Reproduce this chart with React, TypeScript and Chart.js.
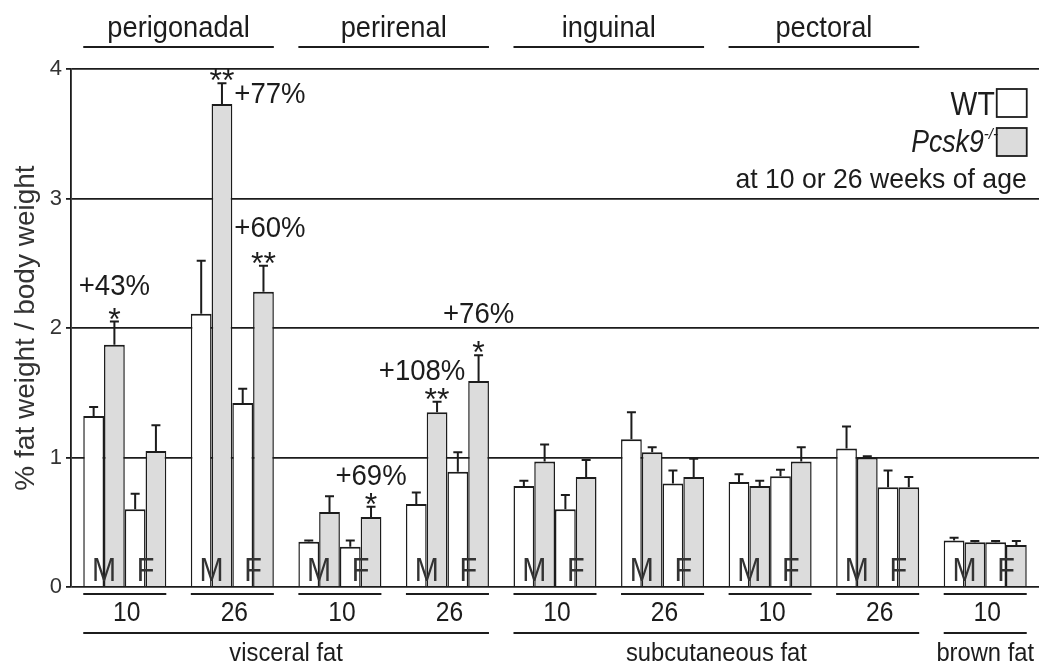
import React, { useEffect, useRef } from "react";
import { Chart, registerables } from "chart.js";

Chart.register(...registerables);

// ---- data ----
const groups = [
  "perigonadal 10", "perigonadal 26", "perirenal 10", "perirenal 26",
  "inguinal 10", "inguinal 26", "pectoral 10", "pectoral 26", "brown 10",
];
const ageLabels = ["10", "26", "10", "26", "10", "26", "10", "26", "10"];
const depotLabels = [
  { text: "perigonadal", from: 0, to: 1 },
  { text: "perirenal", from: 2, to: 3 },
  { text: "inguinal", from: 4, to: 5 },
  { text: "pectoral", from: 6, to: 7 },
];
const fatTypeLabels = [
  { text: "visceral fat", from: 0, to: 3 },
  { text: "subcutaneous fat", from: 4, to: 7 },
  { text: "brown fat", from: 8, to: 8 },
];

const wtMale = [1.32, 2.11, 0.35, 0.64, 0.78, 1.14, 0.81, 1.07, 0.36];
const wtMaleSem = [0.07, 0.41, 0.01, 0.09, 0.04, 0.21, 0.06, 0.17, 0.02];
const koMale = [1.87, 3.73, 0.58, 1.35, 0.97, 1.04, 0.78, 1.0, 0.345];
const koMaleSem = [0.18, 0.16, 0.12, 0.08, 0.13, 0.04, 0.04, 0.01, 0.01];
const wtFemale = [0.6, 1.42, 0.31, 0.89, 0.6, 0.8, 0.855, 0.77, 0.345];
const wtFemaleSem = [0.12, 0.11, 0.05, 0.15, 0.11, 0.1, 0.05, 0.13, 0.01];
const koFemale = [1.05, 2.28, 0.54, 1.59, 0.85, 0.85, 0.97, 0.77, 0.325];
const koFemaleSem = [0.2, 0.2, 0.08, 0.2, 0.13, 0.14, 0.11, 0.08, 0.03];

const yTickValues = [0, 1, 2, 3, 4];
const yTitle = "% fat weight / body weight";

// significance marks: group index, dataset index, stars
const starMarks = [
  { cat: 0, ds: 1, text: "*" },
  { cat: 1, ds: 1, text: "**" },
  { cat: 1, ds: 3, text: "**" },
  { cat: 2, ds: 3, text: "*" },
  { cat: 3, ds: 1, text: "**" },
  { cat: 3, ds: 3, text: "*" },
];
// percent increase labels: anchored to a bar and a y value (baseline)
const pctMarks = [
  { cat: 0, ds: 1, text: "+43%", at: 2.255, align: "center", dx: 0 },
  { cat: 1, ds: 1, text: "+77%", at: 3.737, align: "left", dx: 0 },
  { cat: 1, ds: 1, text: "+60%", at: 2.703, align: "left", dx: 0 },
  { cat: 2, ds: 3, text: "+69%", at: 0.788, align: "center", dx: 0 },
  { cat: 3, ds: 1, text: "+108%", at: 1.598, align: "center", dx: -15 },
  { cat: 3, ds: 3, text: "+76%", at: 2.039, align: "center", dx: 0 },
];

const means = [wtMale, koMale, wtFemale, koFemale];
const sems = [wtMaleSem, koMaleSem, wtFemaleSem, koFemaleSem];

const FONT = '"Liberation Sans", Arial, Helvetica, sans-serif';
const INK = "#1c1c1c";
const GRAY = "#dcdcdc";

function txt(
  ctx: CanvasRenderingContext2D,
  s: string,
  x: number,
  y: number,
  size: number,
  opts: { align?: CanvasTextAlign; sx?: number; italic?: boolean; color?: string } = {}
) {
  const { align = "center", sx = 1, italic = false, color = INK } = opts;
  ctx.save();
  ctx.translate(x, y);
  ctx.scale(sx, 1);
  ctx.font = `${italic ? "italic " : ""}${size}px ${FONT}`;
  ctx.fillStyle = color;
  ctx.textAlign = align;
  ctx.textBaseline = "alphabetic";
  ctx.fillText(s, 0, 0);
  ctx.restore();
}

function hline(ctx: CanvasRenderingContext2D, x1: number, x2: number, y: number, w = 2) {
  ctx.save();
  ctx.strokeStyle = INK;
  ctx.lineWidth = w;
  ctx.beginPath();
  ctx.moveTo(x1, y);
  ctx.lineTo(x2, y);
  ctx.stroke();
  ctx.restore();
}

const decorPlugin = {
  id: "decor",
  afterDatasetsDraw(chart: any) {
    const ctx: CanvasRenderingContext2D = chart.ctx;
    const y = chart.scales.y;
    // error bars
    ctx.save();
    ctx.strokeStyle = INK;
    ctx.lineWidth = 2;
    for (let d = 0; d < 4; d++) {
      const meta = chart.getDatasetMeta(d);
      meta.data.forEach((bar: any, i: number) => {
        const yb = y.getPixelForValue(means[d][i]);
        const yt = y.getPixelForValue(means[d][i] + sems[d][i]);
        ctx.beginPath();
        ctx.moveTo(bar.x, yb);
        ctx.lineTo(bar.x, yt);
        ctx.moveTo(bar.x - 4.5, yt);
        ctx.lineTo(bar.x + 4.5, yt);
        ctx.stroke();
      });
    }
    ctx.restore();

    const m0 = chart.getDatasetMeta(0).data;
    const m1 = chart.getDatasetMeta(1).data;
    const m3 = chart.getDatasetMeta(3).data;
    const yBase = y.getPixelForValue(0);

    // M / F labels inside bars
    for (let i = 0; i < groups.length; i++) {
      const mx = m1[i].x - m1[i].width / 2;
      const fx = m3[i].x - m3[i].width / 2;
      txt(ctx, "M", mx, yBase - 6, 34, { color: "#333", sx: 0.85 });
      txt(ctx, "F", fx, yBase - 6, 34, { color: "#333", sx: 0.85 });
    }

    const gl = (i: number) => m0[i].x - m0[i].width / 2;
    const gr = (i: number) => m3[i].x + m3[i].width / 2;

    // age labels & group underlines
    for (let i = 0; i < groups.length; i++) {
      hline(ctx, gl(i), gr(i), yBase + 7);
      txt(ctx, ageLabels[i], (gl(i) + gr(i)) / 2 + 2, yBase + 34, 28, { sx: 0.88 });
    }
    // fat type labels
    fatTypeLabels.forEach((f) => {
      hline(ctx, gl(f.from), gr(f.to), yBase + 46);
      txt(ctx, f.text, (gl(f.from) + gr(f.to)) / 2, yBase + 74, 25, { sx: 0.95 });
    });
    // depot labels at top
    depotLabels.forEach((f) => {
      hline(ctx, gl(f.from), gr(f.to), 47);
      txt(ctx, f.text, (gl(f.from) + gr(f.to)) / 2, 37, 29, { sx: 0.94 });
    });

    // stars
    starMarks.forEach((s) => {
      const d = s.ds, i = s.cat;
      const bar = chart.getDatasetMeta(d).data[i];
      const yt = y.getPixelForValue(means[d][i] + sems[d][i]);
      txt(ctx, s.text, bar.x, yt - 10 + 0.57 * 32, 32);
    });
    // percentages
    pctMarks.forEach((p) => {
      const bar = chart.getDatasetMeta(p.ds).data[p.cat];
      const yy = y.getPixelForValue(p.at);
      let x = bar.x + p.dx;
      if (p.align === "left") x = bar.x + bar.width / 2 + 2 + p.dx;
      txt(ctx, p.text, x, yy, 29, { align: p.align as CanvasTextAlign, sx: 0.95 });
    });

    // y title
    ctx.save();
    ctx.translate(33.5, 328);
    ctx.rotate(-Math.PI / 2);
    ctx.font = `28px ${FONT}`;
    ctx.fillStyle = "#333";
    ctx.textAlign = "center";
    ctx.textBaseline = "alphabetic";
    ctx.fillText(yTitle, 0, 0);
    ctx.restore();

    // legend
    const boxR = gr(8);
    const boxW = 30;
    ctx.save();
    ctx.lineWidth = 1.8;
    ctx.strokeStyle = INK;
    ctx.fillStyle = "#fff";
    ctx.fillRect(boxR - boxW, 89, boxW, 28);
    ctx.strokeRect(boxR - boxW, 89, boxW, 28);
    ctx.fillStyle = GRAY;
    ctx.fillRect(boxR - boxW, 128, boxW, 28);
    ctx.strokeRect(boxR - boxW, 128, boxW, 28);
    ctx.restore();
    txt(ctx, "WT", boxR - boxW - 2, 115, 33, { align: "right", sx: 0.86 });
    txt(ctx, "Pcsk9", boxR - boxW - 13, 152, 31, { align: "right", sx: 0.86, italic: true });
    txt(ctx, "-/-", boxR - boxW - 13, 139, 15, { align: "left", italic: true });
    txt(ctx, "at 10 or 26 weeks of age", boxR, 188, 28, { align: "right", sx: 0.95 });
  },
};

export default function App() {
  const ref = useRef<HTMLCanvasElement | null>(null);
  useEffect(() => {
    if (!ref.current) return;
    const mk = (label: string, data: number[], bg: string) => ({
      label,
      data,
      backgroundColor: bg,
      borderColor: INK,
      borderWidth: { top: 2, left: 1.5, right: 1.5, bottom: 0 },
      borderSkipped: false,
      categoryPercentage: 0.772,
      barPercentage: 1,
    });
    const chart = new Chart(ref.current, {
      type: "bar",
      data: {
        labels: groups,
        datasets: [
          mk("WT male", wtMale, "#ffffff"),
          mk("Pcsk9-/- male", koMale, GRAY),
          mk("WT female", wtFemale, "#ffffff"),
          mk("Pcsk9-/- female", koFemale, GRAY),
        ] as any,
      },
      options: {
        responsive: false,
        animation: false,
        layout: { padding: { top: 69, bottom: 78, left: 0, right: 0 } },
        plugins: { legend: { display: false }, tooltip: { enabled: false } },
        scales: {
          x: { display: false },
          y: {
            min: 0,
            max: 4,
            afterFit: (s: any) => {
              s.width = 71;
            },
            afterBuildTicks: (s: any) => {
              s.ticks = yTickValues.map((v) => ({ value: v }));
            },
            ticks: {
              color: "#333",
              padding: 4,
              font: { family: FONT, size: 22 },
            },
            grid: { color: INK, lineWidth: 1.8, tickLength: 5, drawTicks: true },
            border: { display: true, color: INK, width: 1.8 },
          },
        },
      } as any,
      plugins: [decorPlugin],
    });
    return () => chart.destroy();
  }, []);
  return (
    <div style={{ position: "absolute", left: 0, top: 0, width: 1039, height: 665, background: "#fff" }}>
      <canvas ref={ref} width={1039} height={665} />
    </div>
  );
}
